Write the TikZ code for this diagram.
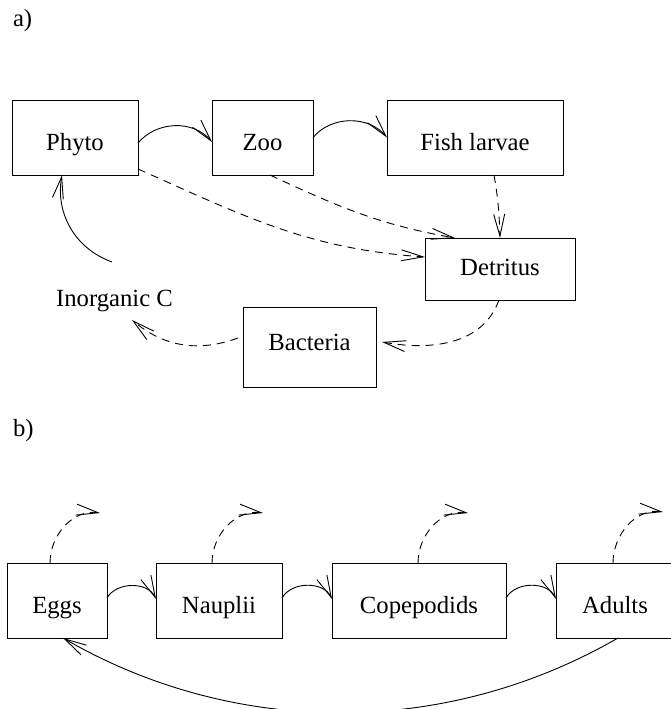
\documentclass[tikz,border=0pt]{standalone}
\usepackage{fontspec}
\setmainfont{Liberation Serif}
\usetikzlibrary{arrows.meta}
\tikzset{
  box/.style={draw, line width=0.9pt, inner sep=0pt, outer sep=0pt, anchor=north west,
              text height=26pt, text depth=0pt},
  flow/.style={line width=0.9pt, -{Straight Barb[length=22pt,width=11pt]}},
  loss/.style={flow, dash pattern=on 8pt off 6pt},
  lbl/.style={inner sep=0pt, outer sep=0pt}
}
\begin{document}
\begin{tikzpicture}[x=1pt,y=1pt,font=\fontsize{24.7pt}{30pt}\selectfont]
\useasboundingbox (0,0) rectangle (671,709);
% labels
\node[lbl, anchor=base west] (la) at (13,682) {a)};
\node[lbl, anchor=base west] (lb) at (13,272) {b)};
% part a
\node[box, minimum width=126pt, minimum height=75pt] (phyto) at (12,609) {Phyto\hspace{16pt}};
\node[box, minimum width=101pt, minimum height=75pt] (zoo) at (212,609) {Zoo\hspace{10pt}};
\node[box, minimum width=176pt, minimum height=75pt] (fish) at (387,609) {Fish larvae\hspace{14pt}};
\node[box, minimum width=150pt, minimum height=62pt, text height=14pt] (detritus) at (425,471) {Detritus\hspace{6pt}};
\node[box, minimum width=133pt, minimum height=80pt, text height=8pt] (bacteria) at (243,402) {Bacteria};
\node[lbl, anchor=base] (inorg) at (114.5,402) {Inorganic C};
\coordinate (icin) at (132,389);
\coordinate (icout) at (112,447);

\draw[flow] ([yshift=-5.5pt]phyto.east) to[out=50,in=130] ([yshift=-4.5pt]zoo.west);
\draw[flow] (zoo.east) to[out=50,in=130] (fish.west);
\draw[loss] ([yshift=-31.5pt]phyto.east) to[out=-24,in=176] ([yshift=12pt]detritus.west);
\draw[loss] ([xshift=7.5pt]zoo.south) to[out=-25,in=170] ([xshift=30pt]detritus.north west);
\draw[loss] ([xshift=19pt]fish.south) to[out=-80,in=92] (detritus.north);
\draw[loss] ([xshift=-1pt]detritus.south) to[out=-110,in=-10] ([xshift=6pt,yshift=5pt]bacteria.east);
\draw[loss] ([xshift=-5pt,yshift=9pt]bacteria.west) to[out=200,in=-40] (icin);
\draw[flow] (icout) to[out=160,in=-100] ([xshift=-13pt]phyto.south);

% part b
\node[box, minimum width=100pt, minimum height=75pt] (eggs) at (7,146) {Eggs};
\node[box, minimum width=126pt, minimum height=75pt] (nauplii) at (156,146) {Nauplii};
\node[box, minimum width=174pt, minimum height=75pt] (copepodids) at (332,146) {Copepodids};
\node[box, minimum width=118pt, minimum height=75pt] (adults) at (556,146) {Adults};

\coordinate (m1) at (100,196);
\coordinate (m2) at (263,196);
\coordinate (m3) at (468,196);
\coordinate (m4) at (663,197);

\draw[flow] ([yshift=2.5pt]eggs.east) to[out=60,in=115] ([yshift=1.5pt]nauplii.west);
\draw[flow] ([yshift=2.5pt]nauplii.east) to[out=60,in=115] ([yshift=1.5pt]copepodids.west);
\draw[flow] ([yshift=2.5pt]copepodids.east) to[out=60,in=115] ([yshift=1.5pt]adults.west);

\draw[loss] ([xshift=-7pt]eggs.north) to[out=90,in=172] (m1);
\draw[loss] ([xshift=-7pt]nauplii.north) to[out=90,in=172] (m2);
\draw[loss] ([xshift=-1pt]copepodids.north) to[out=90,in=172] (m3);
\draw[loss] ([xshift=-2pt]adults.north) to[out=90,in=172] (m4);

\draw[flow] ([xshift=3pt]adults.south) to[out=-150,in=-30,looseness=0.92] ([xshift=6pt]eggs.south);
\end{tikzpicture}
\end{document}
